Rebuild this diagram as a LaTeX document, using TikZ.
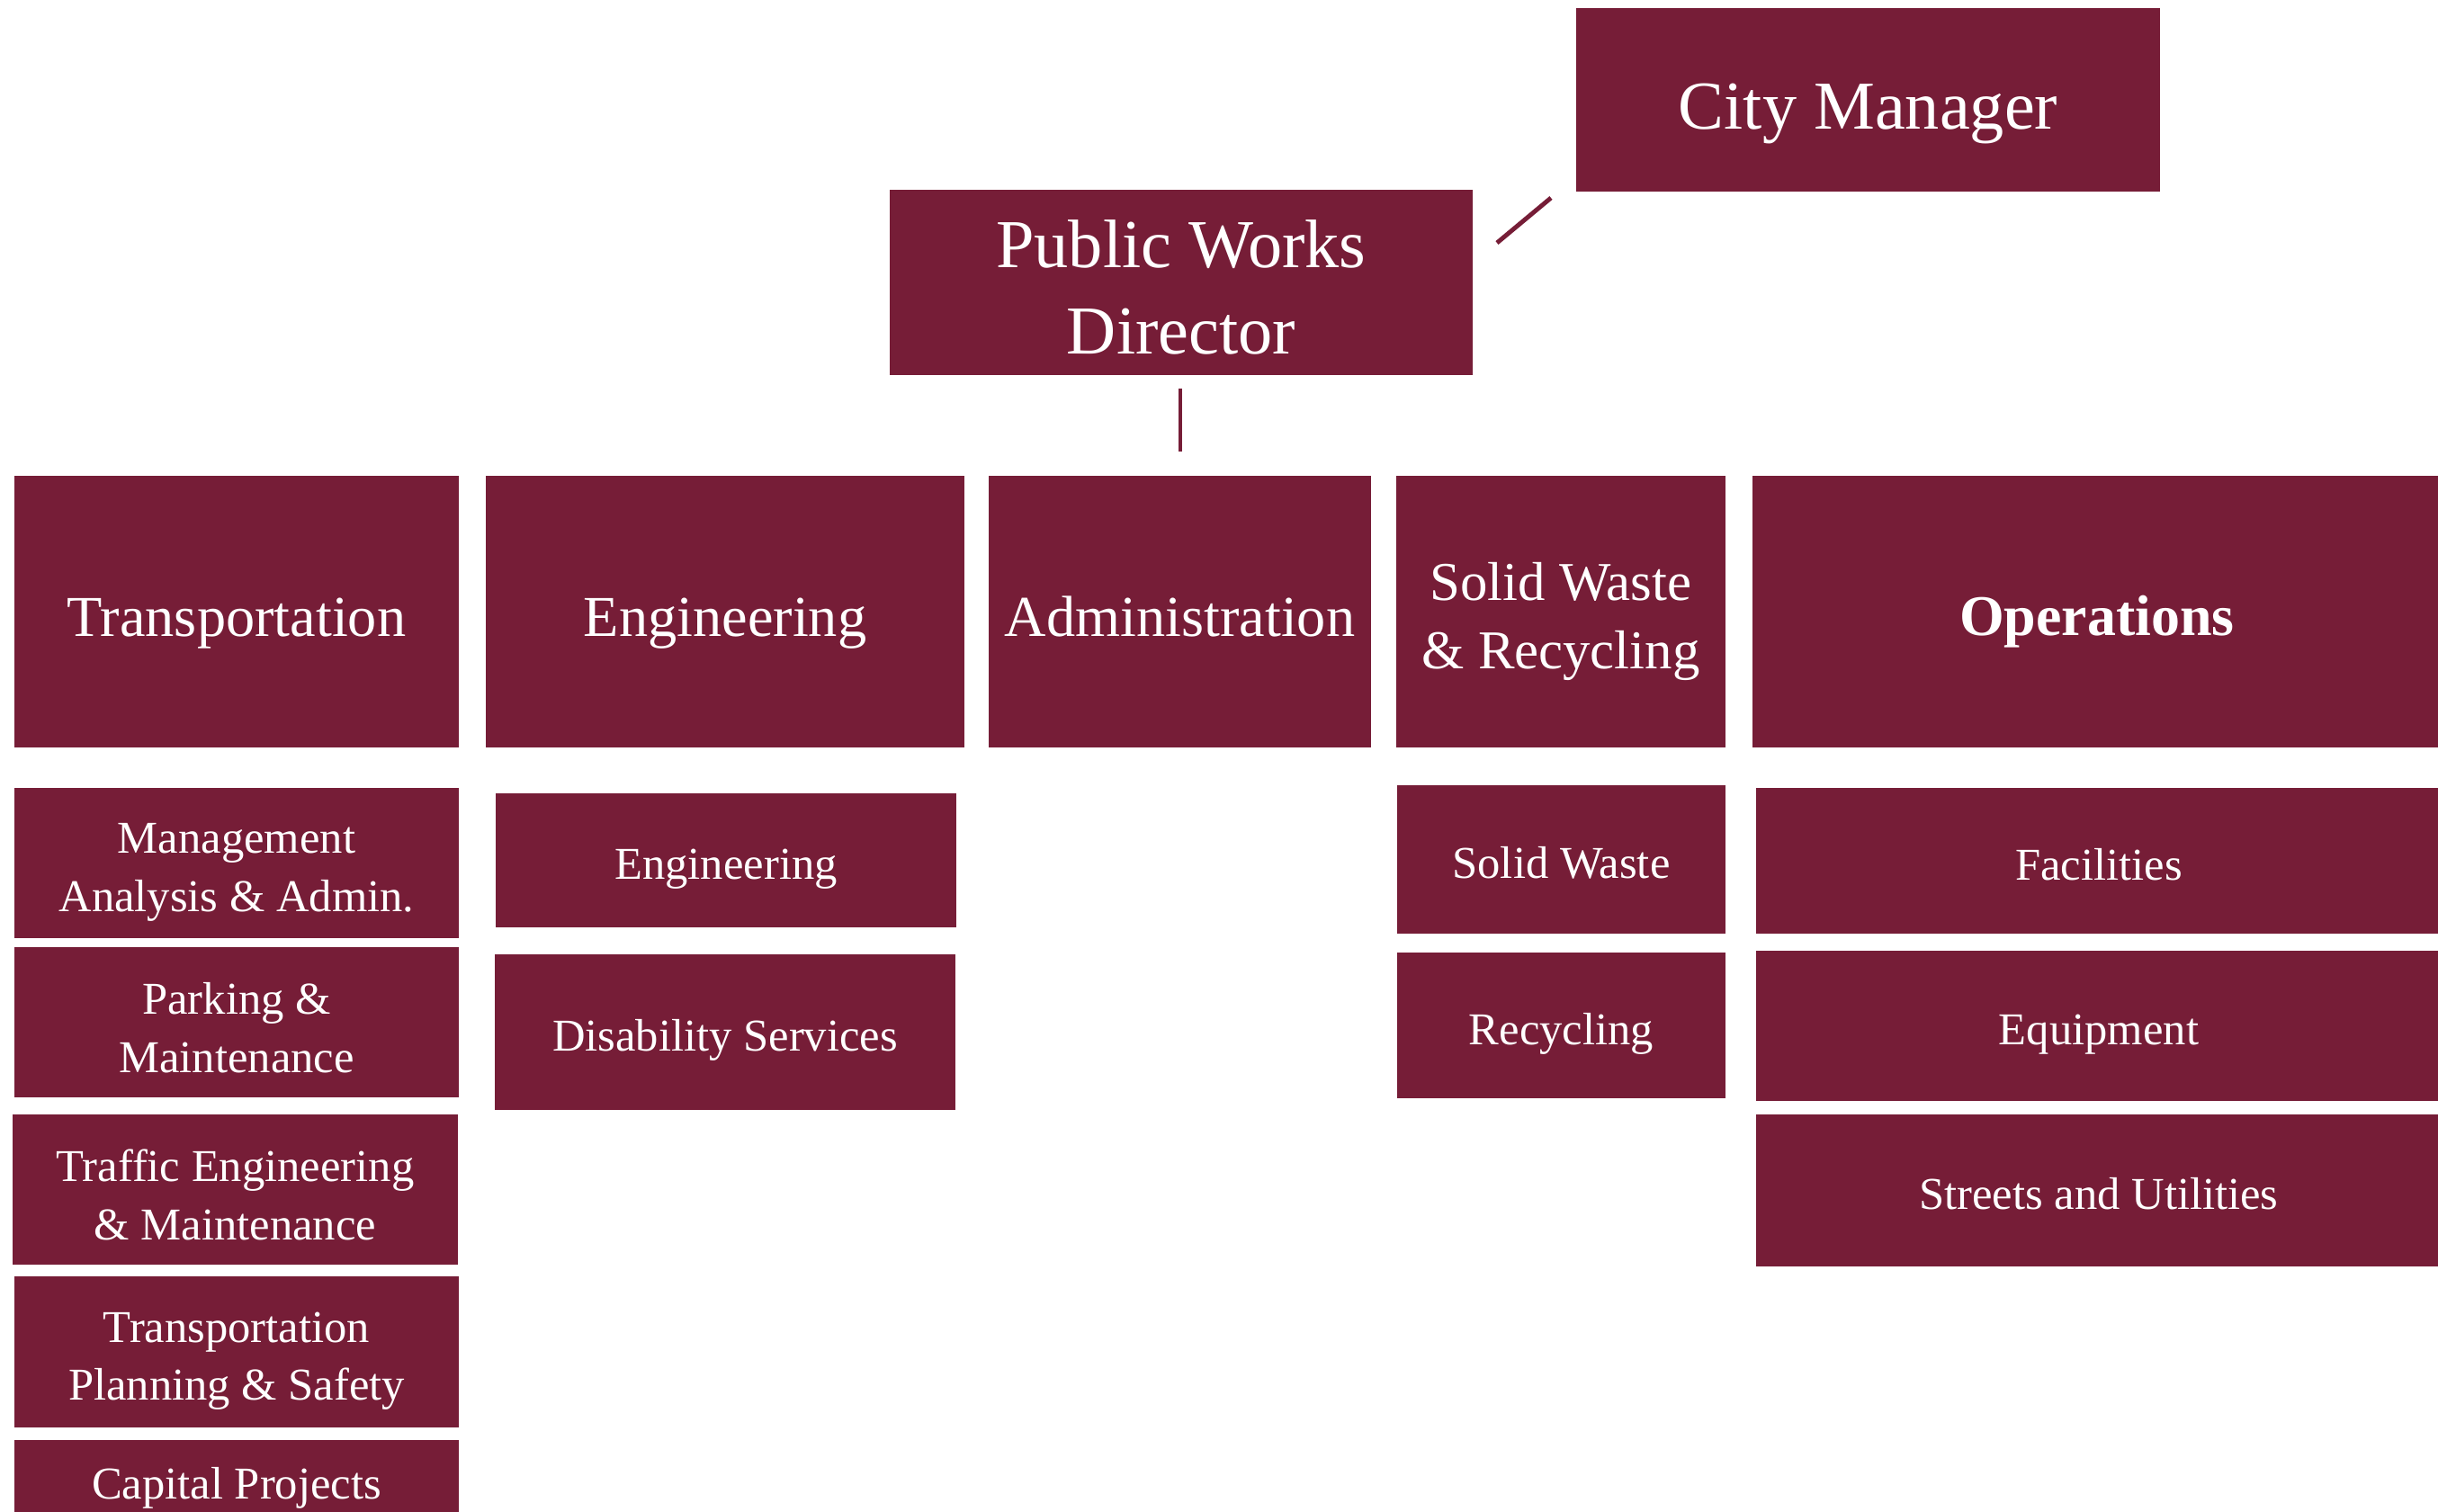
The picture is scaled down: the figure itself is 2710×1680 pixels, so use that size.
\documentclass[tikz,border=0pt]{standalone}
\usepackage{fontspec}
\setmainfont{Liberation Serif}
\definecolor{maroon}{RGB}{118,29,55}
\newcommand\sst[1][1.28]{\rule[-0.22em]{0pt}{#1em}}
\tikzset{
  box/.style={fill=maroon, text=white, inner sep=0pt, outer sep=0pt, align=center, draw=none},
  sz/.style 2 args={minimum width=#1*0.1mm, minimum height=#2*0.1mm},
  topfont/.style={font=\fontsize{21.7}{27.2}\selectfont},
  headfont/.style={font=\fontsize{18.3}{22}\selectfont},
  subfont/.style={font=\fontsize{14.4}{18.4}\selectfont},
  link/.style={draw=maroon, line width=1.4pt},
}
\begin{document}
\begin{tikzpicture}[x=0.1mm, y=-0.1mm]
\useasboundingbox (0,0) rectangle (2710,1680);
% top
\node[box, sz={649}{204}, topfont] (cm) at (2076.5,111) {\sst City Manager};
\node[box, sz={648}{206}, topfont] (pwd) at (1313,314) {\sst[1.05]Public Works\\Director};
% divisions
\node[box, sz={494}{302}, headfont] (trans) at (263,680) {\sst Transportation};
\node[box, sz={532}{302}, headfont] (eng) at (806,680) {\sst Engineering};
\node[box, sz={425}{302}, headfont] (adm) at (1311.5,680) {\sst Administration};
\node[box, sz={366}{302}, font=\fontsize{17.3}{21.8}\selectfont] (sw) at (1735,680) {\sst Solid Waste\\\& Recycling};
\node[box, sz={766}{302}, font=\fontsize{18.2}{22}\selectfont\bfseries] (ops) at (2331,680) {\sst Operations};
% transportation subs
\node[box, sz={494}{167}, subfont] (mgmt) at (263,959.5) {\sst Management\\Analysis \& Admin.};
\node[box, sz={494}{167}, subfont] (park) at (263,1136.5) {\sst[1.16]Parking \&\\Maintenance};
\node[box, sz={495}{167}, subfont] (traffic) at (261.5,1322.5) {\sst[1.16]Traffic Engineering\\\& Maintenance};
\node[box, sz={494}{168}, subfont] (tplan) at (263,1503) {\sst Transportation\\Planning \& Safety};
\node[box, sz={494}{89}, subfont] (cap) at (263,1645.5) {\sst Capital Projects};
% engineering subs
\node[box, sz={512}{149}, subfont] (engs) at (807,956.5) {\sst Engineering};
\node[box, sz={512}{173}, subfont] (dis) at (806,1147.5) {\sst Disability Services};
% solid waste subs
\node[box, sz={365}{165}, subfont] (sws) at (1735.5,955.5) {\sst Solid Waste};
\node[box, sz={365}{162}, subfont] (rec) at (1735.5,1140) {\sst Recycling};
% operations subs
\node[box, sz={762}{162}, subfont] (fac) at (2333,957) {\sst Facilities};
\node[box, sz={762}{167}, subfont] (equip) at (2333,1140.5) {\sst Equipment};
\node[box, sz={762}{169}, subfont] (streets) at (2333,1323.5) {\sst Streets and Utilities};
% connectors
\coordinate (d1) at (1664,270);
\coordinate (d2) at (1724,220);
\draw[link] (d1) -- (d2);
\coordinate (v1) at (1312,432);
\coordinate (v2) at (1312,502);
\draw[link, line width=1.1pt] (v1) -- (v2);
\end{tikzpicture}
\end{document}
